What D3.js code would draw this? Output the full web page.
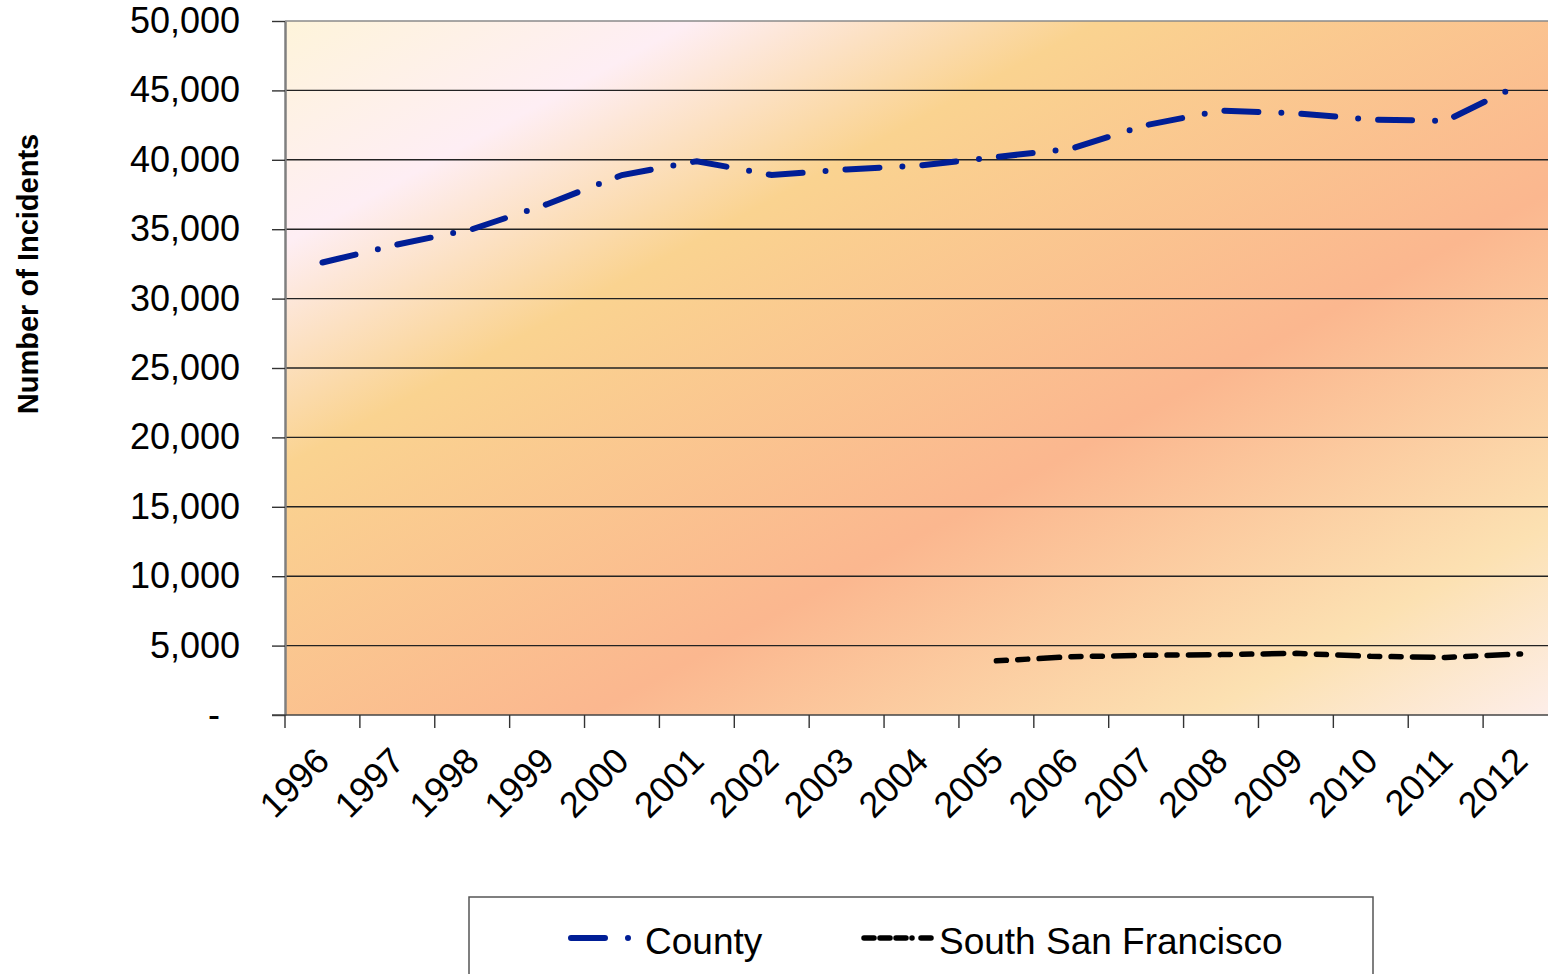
<!DOCTYPE html>
<html lang="en">
<head>
  <meta charset="UTF-8">
  <title>Number of Incidents</title>
  <style>
    body { margin: 0; background: #fff; }
  </style>
</head>
<body>
  <script src="https://cdnjs.cloudflare.com/ajax/libs/d3/7.8.5/d3.min.js"></script>
  <script>
    const years = ["1996", "1997", "1998", "1999", "2000", "2001", "2002", "2003", "2004",
      "2005", "2006", "2007", "2008", "2009", "2010", "2011", "2012"];
    const county = [32600, 33900, 35000, 36800, 38900, 39900, 38900, 39300, 39600,
      40200, 40800, 42500, 43550, 43350, 42900, 42800, 45450];
    const southSF = [null, null, null, null, null, null, null, null, null,
      3900, 4200, 4300, 4350, 4440, 4230, 4150, 4400];
    const yTicks = [0, 5000, 10000, 15000, 20000, 25000, 30000, 35000, 40000, 45000, 50000];
    const seriesNames = ["County", "South San Francisco"];

    const [width, height] = [1548, 974];
    const margin = { top: 21, right: -10, bottom: 259, left: 285 };
    const font = "'Liberation Sans', Arial, sans-serif";

    const x = d3.scaleBand()
      .domain(years)
      .range([margin.left, width - margin.right]);
    const y = d3.scaleLinear()
      .domain([0, 50000])
      .range([height - margin.bottom, margin.top]);

    const fmt = (d) => (d === 0 ? "-" : d3.format(",")(d));

    const svg = d3.select(document.body)
      .append("svg")
      .attr("width", width)
      .attr("height", height)
      .attr("viewBox", [0, 0, width, height])
      .attr("font-family", font);

    // plot background gradient
    const grad = svg.append("defs").append("linearGradient")
      .attr("id", "bg")
      .attr("x1", 0).attr("y1", 0).attr("x2", 1).attr("y2", 1);
    [[0, "#fef4da"], [0.16, "#feeef4"], [0.32, "#fad390"], [0.62, "#fbb78f"],
     [0.86, "#fce1b2"], [1, "#fdeeea"]].forEach(([o, c]) =>
      grad.append("stop").attr("offset", o).attr("stop-color", c));

    const x0 = x.range()[0], x1 = x.range()[1];
    svg.append("rect")
      .attr("x", x0)
      .attr("y", y(50000))
      .attr("width", x1 - x0)
      .attr("height", y(0) - y(50000))
      .attr("fill", "url(#bg)");

    // gridlines
    svg.append("g")
      .selectAll("line")
      .data(yTicks.filter((d) => d > 0))
      .join("line")
      .attr("x1", x0).attr("x2", x1)
      .attr("y1", (d) => y(d)).attr("y2", (d) => y(d))
      .attr("stroke", (d) => (d === 50000 ? "#8a8a8a" : "#222"))
      .attr("stroke-width", 1.4);

    // y axis
    svg.append("g")
      .attr("transform", `translate(${x0},0)`)
      .call(d3.axisLeft(y).tickValues(yTicks).tickFormat(fmt).tickSize(13).tickPadding(32).tickSizeOuter(0))
      .call((g) => g.select(".domain").attr("stroke", "#7f7f7f").attr("stroke-width", 2.5))
      .call((g) => g.selectAll(".tick line").attr("stroke", "#333").attr("stroke-width", 1.4))
      .call((g) => g.selectAll(".tick text")
        .attr("font-size", 36)
        .attr("font-family", font)
        .attr("fill", "#000")
        .attr("dx", (d) => (d === 0 ? -20 : 0)));

    svg.append("text")
      .attr("transform", "translate(38,274) rotate(-90)")
      .attr("text-anchor", "middle")
      .attr("font-size", 29)
      .attr("font-weight", "bold")
      .text("Number of Incidents");

    // x axis
    const xg = svg.append("g");
    xg.append("line")
      .attr("x1", x0 - 13).attr("x2", x1)
      .attr("y1", y(0)).attr("y2", y(0))
      .attr("stroke", "#444").attr("stroke-width", 1.6);
    xg.selectAll(".xt")
      .data(years)
      .join("line")
      .attr("class", "xt")
      .attr("x1", (d) => x(d)).attr("x2", (d) => x(d))
      .attr("y1", y(0)).attr("y2", y(0) + 13)
      .attr("stroke", "#333").attr("stroke-width", 1.4);
    xg.selectAll("text")
      .data(years)
      .join("text")
      .attr("transform", (d) => `translate(${x(d) + x.bandwidth() / 2 + 9},${y(0) + 48}) rotate(-45)`)
      .attr("text-anchor", "end")
      .attr("font-size", 36)
      .text((d) => d);

    // lines
    const line = d3.line()
      .defined((d) => d != null)
      .x((d, i) => x(years[i]) + x.bandwidth() / 2)
      .y((d) => y(d));

    const countyStyle = { stroke: "#001e96", width: 6, dash: "34 23 0 20" };
    const ssfStyle = { stroke: "#000", width: 5.5, dash: "10 11.4 10 11.4 20.5 11.4" };

    svg.append("path")
      .datum(county)
      .attr("d", line)
      .attr("fill", "none")
      .attr("stroke", countyStyle.stroke)
      .attr("stroke-width", countyStyle.width)
      .attr("stroke-linecap", "round")
      .attr("stroke-dasharray", countyStyle.dash);

    svg.append("path")
      .datum(southSF)
      .attr("d", line)
      .attr("fill", "none")
      .attr("stroke", ssfStyle.stroke)
      .attr("stroke-width", ssfStyle.width)
      .attr("stroke-linecap", "round")
      .attr("stroke-dasharray", ssfStyle.dash);

    // legend
    const lg = svg.append("g");
    lg.append("rect")
      .attr("x", 469).attr("y", 897)
      .attr("width", 904).attr("height", 100)
      .attr("fill", "#fff")
      .attr("stroke", "#555")
      .attr("stroke-width", 1.5);

    const items = [
      { name: seriesNames[0], style: countyStyle, x: 571, x2: 631, tx: 645 },
      { name: seriesNames[1], style: { ...ssfStyle, dash: "10 6 10 6 10 6 0 9" }, x: 864, x2: 934, tx: 939 }
    ];
    items.forEach((it) => {
      lg.append("line")
        .attr("x1", it.x).attr("x2", it.x2)
        .attr("y1", 938).attr("y2", 938)
        .attr("stroke", it.style.stroke)
        .attr("stroke-width", it.style.width)
        .attr("stroke-linecap", "round")
        .attr("stroke-dasharray", it.style.dash);
      lg.append("text")
        .attr("x", it.tx).attr("y", 954)
        .attr("font-size", 37)
        .text(it.name);
    });
  </script>
</body>
</html>
